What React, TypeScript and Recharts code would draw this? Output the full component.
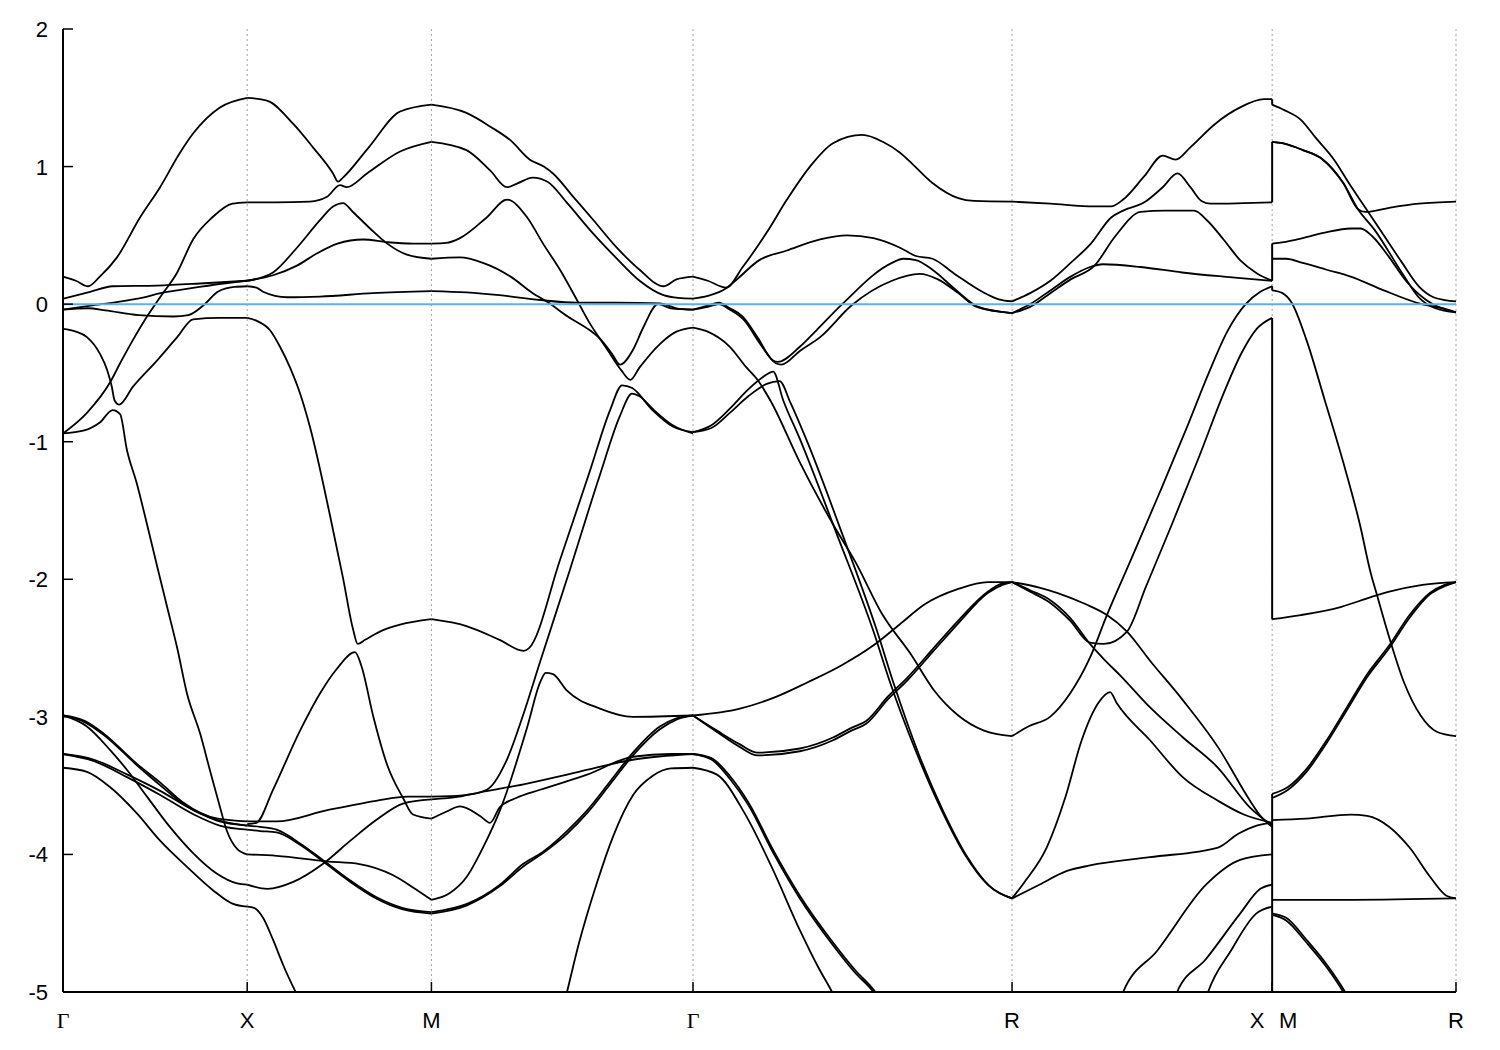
import React from "react";
import { CartesianGrid, Line, LineChart, XAxis, YAxis } from "recharts";

type Pt = [number, number];

// k-path: Γ X M Γ R X|M R  (distance in units of Γ-X)
const kTicks = [0, 1, 2, 3.42, 5.152, 6.564, 7.562];
const kLabels = ["Γ", "X", "M", "Γ", "R", "X|M", "R"];
const energyTicks = [-5, -4, -3, -2, -1, 0, 1, 2];
const fermiLevel: Pt[] = [[0, 0], [7.562, 0]];

// Γ -> X
const bandsGX: Pt[][] = [
  [[0, 0.2], [0.07, 0.17], [0.136, 0.13], [0.2, 0.2], [0.293, 0.34], [0.418, 0.63], [0.527, 0.85], [0.635, 1.1], [0.706, 1.24], [0.852, 1.43], [1, 1.5]],
  [[0, 0.04], [0.147, 0.09], [0.27, 0.13], [0.51, 0.135], [0.744, 0.15], [1, 0.17]],
  [[0, -0.04], [0.15, -0.01], [0.29, 0.015], [0.44, 0.05], [0.53, 0.08], [0.62, 0.1], [0.74, 0.125], [0.87, 0.15], [1, 0.17]],
  [[0, -0.04], [0.136, -0.03], [0.23, -0.045], [0.41, -0.08], [0.6, -0.09], [0.68, -0.08], [0.77, 0.0], [0.84, 0.09], [0.93, 0.125], [1, 0.13]],
  [[0, -0.94], [0.13, -0.79], [0.255, -0.57], [0.31, -0.43], [0.38, -0.26], [0.456, -0.09], [0.527, 0.05], [0.62, 0.23], [0.706, 0.47], [0.81, 0.63], [0.92, 0.73], [1, 0.74]],
  [[0, -0.18], [0.07, -0.2], [0.13, -0.24], [0.2, -0.36], [0.24, -0.48], [0.265, -0.6], [0.28, -0.7], [0.305, -0.73], [0.38, -0.6], [0.51, -0.41], [0.62, -0.24], [0.706, -0.11], [0.85, -0.1], [1, -0.1]],
  [[0, -0.94], [0.11, -0.92], [0.2, -0.86], [0.27, -0.77], [0.31, -0.8], [0.347, -1.06], [0.4, -1.3], [0.456, -1.6], [0.51, -1.9], [0.565, -2.2], [0.62, -2.5], [0.673, -2.83], [0.744, -3.12], [0.8, -3.4], [0.845, -3.62], [0.89, -3.83], [0.945, -3.96], [1, -4.0]],
  [[0, -2.99], [0.12, -3.03], [0.22, -3.12], [0.4, -3.34], [0.53, -3.48], [0.65, -3.62], [0.84, -3.74], [1, -3.76]],
  [[0, -2.99], [0.12, -3.04], [0.22, -3.13], [0.4, -3.35], [0.53, -3.5], [0.65, -3.63], [0.84, -3.75], [1, -3.79]],
  [[0, -3.27], [0.165, -3.31], [0.35, -3.42], [0.53, -3.54], [0.71, -3.68], [0.85, -3.76], [1, -3.79]],
  [[0, -3.27], [0.165, -3.32], [0.35, -3.44], [0.53, -3.57], [0.71, -3.71], [0.85, -3.79], [1, -3.82]],
  [[0, -2.99], [0.13, -3.07], [0.255, -3.24], [0.35, -3.39], [0.456, -3.58], [0.58, -3.8], [0.706, -3.99], [0.836, -4.14], [0.945, -4.21], [1, -4.22]],
  [[0, -3.37], [0.13, -3.4], [0.255, -3.51], [0.4, -3.7], [0.527, -3.9], [0.673, -4.09], [0.814, -4.26], [0.923, -4.36], [1, -4.38]],
];

// X -> M
const bandsXM: Pt[][] = [
  [[1, 1.5], [1.107, 1.48], [1.25, 1.31], [1.357, 1.14], [1.466, 0.95], [1.493, 0.89], [1.52, 0.92], [1.66, 1.14], [1.83, 1.4], [2, 1.45]],
  [[1, 0.74], [1.15, 0.74], [1.34, 0.745], [1.433, 0.78], [1.504, 0.865], [1.54, 0.85], [1.65, 0.95], [1.83, 1.11], [2, 1.18]],
  [[1, 0.17], [1.14, 0.23], [1.27, 0.41], [1.395, 0.61], [1.466, 0.71], [1.52, 0.735], [1.574, 0.67], [1.667, 0.55], [1.76, 0.44], [1.867, 0.36], [2, 0.33]],
  [[1, 0.17], [1.14, 0.21], [1.27, 0.28], [1.38, 0.37], [1.49, 0.44], [1.63, 0.47], [1.76, 0.45], [1.9, 0.44], [2, 0.44]],
  [[1, 0.13], [1.05, 0.12], [1.086, 0.09], [1.216, 0.05], [1.395, 0.055], [1.683, 0.08], [2, 0.095]],
  [[1, -0.1], [1.05, -0.12], [1.124, -0.19], [1.178, -0.31], [1.232, -0.46], [1.287, -0.65], [1.34, -0.89], [1.45, -1.54], [1.52, -1.99], [1.574, -2.36], [1.6, -2.47], [1.64, -2.44], [1.72, -2.38], [1.83, -2.33], [2, -2.29]],
  [[1, -3.78], [1.05, -3.77], [1.14, -3.53], [1.287, -3.1], [1.395, -2.83], [1.487, -2.65], [1.585, -2.53], [1.62, -2.63], [1.683, -2.99], [1.76, -3.35], [1.846, -3.59], [1.9, -3.71], [2, -3.74]],
  [[1, -3.76], [1.16, -3.76], [1.43, -3.68], [1.7, -3.61], [1.87, -3.58], [2, -3.58]],
  [[1, -4.22], [1.11, -4.25], [1.25, -4.2], [1.41, -4.07], [1.56, -3.9], [1.7, -3.75], [1.846, -3.63], [2, -3.6]],
  [[1, -3.79], [1.07, -3.8], [1.16, -3.82], [1.287, -3.92], [1.41, -4.04], [1.56, -4.19], [1.7, -4.31], [1.846, -4.39], [2, -4.42]],
  [[1, -3.82], [1.07, -3.83], [1.16, -3.84], [1.287, -3.93], [1.41, -4.05], [1.56, -4.2], [1.7, -4.32], [1.846, -4.4], [2, -4.43]],
  [[1, -4.0], [1.16, -4.01], [1.43, -4.05], [1.61, -4.07], [1.79, -4.15], [1.9, -4.24], [2, -4.33]],
  [[1, -4.38], [1.04, -4.39], [1.086, -4.46], [1.14, -4.62], [1.194, -4.8], [1.27, -5.02], [1.34, -5.2]],
];

// M -> Γ
const bandsMG: Pt[][] = [
  [[2, 1.45], [2.19, 1.39], [2.32, 1.29], [2.43, 1.19], [2.535, 1.05], [2.61, 1.0], [2.66, 0.95], [2.77, 0.78], [2.88, 0.61], [3.0, 0.42], [3.13, 0.25], [3.26, 0.13], [3.33, 0.18], [3.42, 0.2]],
  [[2, 1.18], [2.19, 1.12], [2.32, 0.97], [2.41, 0.85], [2.47, 0.88], [2.55, 0.92], [2.63, 0.89], [2.74, 0.73], [2.86, 0.54], [3.0, 0.34], [3.13, 0.17], [3.26, 0.065], [3.34, 0.045], [3.42, 0.04]],
  [[2, 0.44], [2.08, 0.445], [2.155, 0.48], [2.3, 0.63], [2.41, 0.76], [2.52, 0.63], [2.606, 0.44], [2.698, 0.25], [2.79, 0.03], [2.86, -0.14], [2.95, -0.32], [3.03, -0.48], [3.08, -0.55], [3.13, -0.46], [3.24, -0.29], [3.33, -0.2], [3.42, -0.17]],
  [[2, 0.33], [2.155, 0.34], [2.28, 0.3], [2.43, 0.2], [2.55, 0.08], [2.63, 0.015], [2.74, -0.09], [2.86, -0.19], [2.915, -0.25], [2.98, -0.36], [3.024, -0.44], [3.095, -0.33], [3.15, -0.17], [3.23, 0.0], [3.3, -0.03], [3.42, -0.04]],
  [[2, 0.095], [2.19, 0.085], [2.37, 0.065], [2.59, 0.03], [2.79, 0.01], [3.0, 0.01], [3.24, 0.005], [3.33, -0.03], [3.42, -0.04]],
  [[2, -2.29], [2.19, -2.34], [2.37, -2.44], [2.5, -2.52], [2.53, -2.5], [2.698, -1.86], [2.861, -1.21], [2.97, -0.77], [3.035, -0.59], [3.09, -0.61], [3.2, -0.77], [3.31, -0.89], [3.42, -0.93]],
  [[2, -3.58], [2.17, -3.57], [2.3, -3.53], [2.41, -3.31], [2.497, -2.99], [2.59, -2.6], [2.752, -1.93], [2.915, -1.24], [3.024, -0.81], [3.089, -0.65], [3.13, -0.67], [3.2, -0.76], [3.31, -0.88], [3.42, -0.94]],
  [[2, -3.74], [2.08, -3.69], [2.155, -3.65], [2.264, -3.72], [2.318, -3.77], [2.37, -3.66], [2.46, -3.59], [2.59, -3.53], [2.845, -3.42], [3.094, -3.29], [3.3, -3.27], [3.42, -3.27]],
  [[2, -3.6], [2.15, -3.58], [2.26, -3.55], [2.5, -3.49], [2.8, -3.4], [3.1, -3.31], [3.42, -3.27]],
  [[2, -4.33], [2.1, -4.28], [2.193, -4.16], [2.28, -3.95], [2.372, -3.68], [2.519, -3.08], [2.59, -2.75], [2.62, -2.68], [2.66, -2.69], [2.736, -2.81], [2.915, -2.94], [3.094, -3.0], [3.42, -2.99]],
  [[2, -4.42], [2.193, -4.36], [2.372, -4.22], [2.497, -4.07], [2.606, -3.98], [2.736, -3.83], [2.845, -3.68], [2.97, -3.47], [3.094, -3.26], [3.24, -3.07], [3.33, -3.01], [3.42, -2.99]],
  [[2, -4.43], [2.193, -4.37], [2.372, -4.23], [2.497, -4.09], [2.606, -3.99], [2.736, -3.85], [2.845, -3.7], [2.97, -3.49], [3.094, -3.28], [3.24, -3.09], [3.33, -3.02], [3.42, -2.99]],
  [[2.68, -5.3], [2.736, -5.0], [2.8, -4.65], [2.9, -4.2], [2.986, -3.87], [3.094, -3.57], [3.2, -3.43], [3.3, -3.375], [3.42, -3.37]],
];

// Γ -> R
const bandsGR: Pt[][] = [
  [[3.42, 0.2], [3.5, 0.17], [3.6, 0.12], [3.69, 0.27], [3.82, 0.52], [3.93, 0.76], [4.055, 1.0], [4.18, 1.17], [4.34, 1.23], [4.45, 1.18], [4.544, 1.1], [4.61, 1.02], [4.72, 0.88], [4.86, 0.77], [4.945, 0.75], [5.152, 0.745]],
  [[3.42, 0.04], [3.5, 0.06], [3.6, 0.115], [3.65, 0.17], [3.78, 0.32], [3.93, 0.39], [4.11, 0.47], [4.256, 0.5], [4.4, 0.48], [4.544, 0.41], [4.63, 0.35], [4.72, 0.33], [4.84, 0.22], [4.99, 0.09], [5.08, 0.035], [5.152, 0.02]],
  [[3.42, -0.04], [3.5, -0.01], [3.56, 0.01], [3.62, -0.03], [3.69, -0.09], [3.77, -0.24], [3.855, -0.41], [3.88, -0.42], [4.0, -0.31], [4.09, -0.19], [4.23, 0.0], [4.5, 0.3], [4.56, 0.33], [4.63, 0.32], [4.72, 0.25], [4.85, 0.1], [4.97, -0.02], [5.152, -0.065]],
  [[3.42, -0.04], [3.5, -0.02], [3.56, 0.0], [3.62, -0.04], [3.7, -0.12], [3.78, -0.28], [3.87, -0.43], [3.9, -0.44], [4.0, -0.34], [4.11, -0.24], [4.28, -0.01], [4.5, 0.17], [4.65, 0.22], [4.75, 0.18], [4.86, 0.08], [4.96, -0.02], [5.152, -0.065]],
  [[3.42, -0.17], [3.5, -0.2], [3.62, -0.31], [3.71, -0.46], [3.77, -0.55], [3.84, -0.7], [4.0, -1.15], [4.18, -1.6], [4.3, -1.87], [4.45, -2.26], [4.6, -2.54], [4.73, -2.81], [4.86, -2.99], [5.0, -3.1], [5.152, -3.14]],
  [[3.42, -0.93], [3.52, -0.88], [3.62, -0.76], [3.72, -0.62], [3.8, -0.53], [3.855, -0.49], [3.91, -0.7], [4.0, -0.98], [4.2, -1.67], [4.4, -2.38], [4.49, -2.75], [4.63, -3.25], [4.77, -3.68], [4.9, -4.01], [5.02, -4.22], [5.152, -4.32]],
  [[3.42, -0.93], [3.52, -0.9], [3.62, -0.79], [3.72, -0.67], [3.82, -0.58], [3.89, -0.56], [3.95, -0.72], [4.04, -1.0], [4.23, -1.67], [4.42, -2.38], [4.51, -2.76], [4.645, -3.27], [4.78, -3.69], [4.91, -4.02], [5.03, -4.23], [5.152, -4.32]],
  [[3.42, -2.99], [3.675, -2.94], [3.86, -2.86], [4.04, -2.75], [4.22, -2.63], [4.4, -2.48], [4.54, -2.33], [4.68, -2.18], [4.86, -2.07], [5.02, -2.02], [5.152, -2.02]],
  [[3.42, -2.99], [3.55, -3.1], [3.675, -3.2], [3.77, -3.26], [4.0, -3.23], [4.18, -3.15], [4.28, -3.08], [4.36, -3.03], [4.48, -2.85], [4.58, -2.72], [4.72, -2.51], [4.86, -2.3], [5.02, -2.09], [5.1, -2.03], [5.152, -2.02]],
  [[3.42, -2.99], [3.55, -3.11], [3.675, -3.22], [3.77, -3.28], [4.0, -3.25], [4.18, -3.17], [4.28, -3.1], [4.36, -3.05], [4.48, -2.87], [4.58, -2.74], [4.72, -2.53], [4.86, -2.32], [5.02, -2.1], [5.1, -2.04], [5.152, -2.02]],
  [[3.42, -3.27], [3.52, -3.3], [3.62, -3.43], [3.72, -3.62], [3.86, -3.98], [4.0, -4.3], [4.18, -4.64], [4.3, -4.84], [4.41, -5.0], [4.5, -5.2]],
  [[3.42, -3.27], [3.52, -3.31], [3.62, -3.45], [3.72, -3.64], [3.86, -4.0], [4.0, -4.32], [4.18, -4.66], [4.3, -4.86], [4.4, -5.0], [4.49, -5.2]],
  [[3.42, -3.37], [3.55, -3.42], [3.7, -3.7], [3.85, -4.1], [4.0, -4.55], [4.1, -4.82], [4.175, -5.0], [4.25, -5.2]],
];

// R -> X
const bandsRX: Pt[][] = [
  [[5.152, 0.745], [5.36, 0.73], [5.6, 0.71], [5.69, 0.71], [5.755, 0.76], [5.87, 0.93], [5.97, 1.08], [6.04, 1.05], [6.12, 1.14], [6.254, 1.31], [6.39, 1.43], [6.52, 1.49], [6.564, 1.49]],
  [[5.152, 0.02], [5.25, 0.08], [5.36, 0.17], [5.47, 0.3], [5.58, 0.44], [5.69, 0.63], [5.755, 0.68], [5.87, 0.74], [5.97, 0.85], [6.05, 0.95], [6.12, 0.85], [6.18, 0.75], [6.23, 0.73], [6.564, 0.74]],
  [[5.152, -0.065], [5.25, -0.02], [5.36, 0.08], [5.47, 0.18], [5.6, 0.28], [5.71, 0.49], [5.85, 0.67], [5.98, 0.68], [6.14, 0.68], [6.21, 0.61], [6.3, 0.47], [6.39, 0.32], [6.48, 0.225], [6.564, 0.17]],
  [[5.152, -0.065], [5.25, 0.0], [5.36, 0.1], [5.47, 0.2], [5.575, 0.27], [5.646, 0.29], [5.85, 0.27], [6.075, 0.23], [6.3, 0.2], [6.564, 0.17]],
  [[5.152, -2.02], [5.3, -2.06], [5.4, -2.1], [5.55, -2.18], [5.667, -2.26], [5.776, -2.38], [5.9, -2.59], [6.08, -2.88], [6.27, -3.22], [6.444, -3.61], [6.5, -3.72], [6.564, -3.8]],
  [[5.152, -2.02], [5.25, -2.08], [5.358, -2.15], [5.467, -2.28], [5.575, -2.47], [5.65, -2.58], [5.74, -2.7], [5.9, -2.93], [6.08, -3.15], [6.27, -3.37], [6.444, -3.66], [6.564, -3.79]],
  [[5.152, -2.02], [5.25, -2.09], [5.358, -2.17], [5.467, -2.3], [5.575, -2.46], [5.65, -2.47], [5.776, -2.38], [5.88, -2.05], [6.02, -1.6], [6.17, -1.1], [6.3, -0.65], [6.4, -0.35], [6.48, -0.18], [6.564, -0.1]],
  [[5.152, -3.14], [5.24, -3.07], [5.358, -3.0], [5.467, -2.83], [5.575, -2.57], [5.667, -2.26], [5.8, -1.85], [5.95, -1.38], [6.1, -0.9], [6.22, -0.5], [6.32, -0.2], [6.42, 0.0], [6.5, 0.09], [6.564, 0.13]],
  [[5.152, -4.32], [5.22, -4.2], [5.34, -3.95], [5.44, -3.59], [5.53, -3.17], [5.62, -2.9], [5.684, -2.82], [5.72, -2.9], [5.901, -3.17], [6.08, -3.44], [6.27, -3.61], [6.41, -3.71], [6.564, -3.77]],
  [[5.152, -4.32], [5.3, -4.22], [5.45, -4.12], [5.575, -4.08], [5.9, -4.02], [6.27, -3.95], [6.38, -3.85], [6.48, -3.79], [6.564, -3.77]],
  [[5.7, -5.2], [5.755, -5.0], [5.94, -4.7], [6.205, -4.22], [6.39, -4.04], [6.564, -4.0]],
  [[6.0, -5.2], [6.048, -5.0], [6.205, -4.76], [6.39, -4.43], [6.5, -4.25], [6.564, -4.22]],
  [[6.17, -5.2], [6.216, -5.0], [6.34, -4.7], [6.477, -4.43], [6.564, -4.38]],
];

// M -> R
const bandsMR: Pt[][] = [
  [[6.564, 1.45], [6.63, 1.41], [6.72, 1.34], [6.8, 1.21], [6.9, 1.05], [6.99, 0.86], [7.07, 0.7], [7.16, 0.52], [7.27, 0.3], [7.36, 0.13], [7.44, 0.05], [7.5, 0.03], [7.562, 0.02]],
  [[6.564, 1.18], [6.62, 1.17], [6.73, 1.12], [6.84, 1.05], [6.95, 0.88], [7.03, 0.69], [7.07, 0.67], [7.2, 0.7], [7.36, 0.73], [7.562, 0.745]],
  [[6.564, 1.18], [6.62, 1.17], [6.73, 1.12], [6.84, 1.05], [6.95, 0.88], [7.03, 0.69], [7.12, 0.54], [7.27, 0.225], [7.36, 0.05], [7.45, -0.03], [7.562, -0.06]],
  [[6.564, 0.44], [6.6, 0.445], [6.7, 0.47], [6.85, 0.52], [6.99, 0.55], [7.045, 0.55], [7.11, 0.49], [7.2, 0.34], [7.29, 0.17], [7.4, 0.03], [7.562, -0.06]],
  [[6.564, 0.33], [6.64, 0.33], [6.73, 0.3], [6.86, 0.25], [6.99, 0.2], [7.17, 0.1], [7.35, 0.01], [7.53, -0.045], [7.562, -0.06]],
  [[6.564, 0.1], [6.62, 0.08], [6.67, 0.01], [6.75, -0.26], [6.85, -0.7], [6.95, -1.15], [7.04, -1.6], [7.1, -1.96], [7.13, -2.1], [7.19, -2.38], [7.28, -2.75], [7.37, -2.99], [7.46, -3.11], [7.562, -3.14]],
  [[6.564, -2.29], [6.72, -2.26], [6.94, -2.2], [7.1, -2.13], [7.2, -2.09], [7.38, -2.04], [7.562, -2.02]],
  [[6.564, -3.56], [6.65, -3.51], [6.75, -3.38], [6.86, -3.17], [6.97, -2.93], [7.08, -2.69], [7.2, -2.48], [7.31, -2.26], [7.42, -2.1], [7.5, -2.04], [7.562, -2.02]],
  [[6.564, -3.59], [6.65, -3.53], [6.75, -3.4], [6.86, -3.19], [6.97, -2.95], [7.08, -2.71], [7.2, -2.5], [7.31, -2.28], [7.42, -2.11], [7.5, -2.05], [7.562, -2.02]],
  [[6.564, -3.75], [6.75, -3.74], [6.99, -3.71], [7.08, -3.72], [7.2, -3.8], [7.31, -3.95], [7.42, -4.16], [7.51, -4.3], [7.562, -4.32]],
  [[6.564, -4.33], [7.0, -4.33], [7.562, -4.32]],
  [[6.564, -4.43], [6.64, -4.46], [6.75, -4.62], [6.86, -4.8], [6.96, -5.0], [7.02, -5.15]],
  [[6.564, -4.44], [6.64, -4.48], [6.75, -4.64], [6.86, -4.82], [6.95, -5.0], [7.01, -5.15]],
];

// jumps at the X|M break: [energy at X, energy at M]
const xmJumps: Pt[] = [[1.49, 1.45], [0.74, 1.18], [0.17, 0.44], [0.13, 0.1], [-0.1, -2.29], [-3.56, -5.3]];

const sans = "'Liberation Sans', Arial, Helvetica, sans-serif";
const serif = "'Liberation Serif', 'Times New Roman', serif";

const toRows = (c: Pt[]) => c.map(([k, e]) => ({ k, e }));
const allBands = [bandsGX, bandsXM, bandsMG, bandsGR, bandsRX, bandsMR].flat();
const jumpRows = xmJumps.map(([a, b]) => [
  { k: kTicks[5], e: a },
  { k: kTicks[5], e: b },
]);

const LeftTick = ({ x, y, payload }: any) => (
  <g>
    <line x1={x} x2={x + 10} y1={y} y2={y} stroke="#000" strokeWidth={1.5} />
    <text x={x - 15} y={y + 8} textAnchor="end" fontSize={22} fontFamily={sans} fill="#000">
      {payload.value}
    </text>
  </g>
);

const RightTick = ({ x, y }: any) => (
  <line x1={x} x2={x - 10} y1={y} y2={y} stroke="#000" strokeWidth={1.5} />
);

const TopTick = ({ x, y }: any) => (
  <line x1={x} x2={x} y1={y} y2={y + 10} stroke="#000" strokeWidth={1.5} />
);

const BottomTick = ({ x, y, payload }: any) => {
  const i = kTicks.indexOf(payload.value);
  const label = kLabels[i] ?? "";
  const draw = (s: string, tx: number, key: string) => (
    <text key={key} x={tx} y={y + 36} textAnchor="middle" fontSize={22} fontFamily={s === "Γ" ? serif : sans} fill="#000">
      {s}
    </text>
  );
  return (
    <g>
      <line x1={x} x2={x} y1={y} y2={y - 10} stroke="#000" strokeWidth={1.5} />
      {label.includes("|")
        ? [draw(label.split("|")[0], x - 15, "a"), draw(label.split("|")[1], x + 16, "b")]
        : draw(label, x, "a")}
    </g>
  );
};

export default function App() {
  return (
    <LineChart width={1490} height={1035} margin={{ top: 21, right: 42, bottom: 11, left: 0 }}>
      <CartesianGrid horizontal={false} stroke="#a0a0a0" strokeDasharray="2 3" />
      <XAxis
        dataKey="k"
        type="number"
        domain={[0, 7.562]}
        ticks={kTicks}
        interval={0}
        height={40}
        tickSize={0}
        tickMargin={0}
        tick={<BottomTick />}
        axisLine={{ stroke: "#000", strokeWidth: 2 }}
        tickLine={false}
      />
      <XAxis
        xAxisId="top"
        orientation="top"
        type="number"
        domain={[0, 7.562]}
        ticks={kTicks}
        interval={0}
        height={0}
        tickSize={0}
        tickMargin={0}
        tick={<TopTick />}
        axisLine={{ stroke: "#000", strokeWidth: 2 }}
        tickLine={false}
      />
      <YAxis
        type="number"
        domain={[-5, 2]}
        ticks={energyTicks}
        interval={0}
        allowDataOverflow
        width={55}
        tickSize={0}
        tickMargin={0}
        tick={<LeftTick />}
        axisLine={{ stroke: "#000", strokeWidth: 2 }}
        tickLine={false}
      />
      <YAxis
        yAxisId="right"
        orientation="right"
        type="number"
        domain={[-5, 2]}
        ticks={energyTicks}
        interval={0}
        allowDataOverflow
        width={0}
        tickSize={0}
        tickMargin={0}
        tick={<RightTick />}
        axisLine={{ stroke: "#000", strokeWidth: 2 }}
        tickLine={false}
      />
      {allBands.map((band, i) => (
        <Line
          key={`band-${i}`}
          data={toRows(band)}
          dataKey="e"
          type="monotone"
          stroke="#000"
          strokeWidth={1.8}
          dot={false}
          activeDot={false}
          isAnimationActive={false}
        />
      ))}
      {jumpRows.map((rows, i) => (
        <Line
          key={`jump-${i}`}
          data={rows}
          dataKey="e"
          type="linear"
          stroke="#000"
          strokeWidth={2}
          dot={false}
          activeDot={false}
          isAnimationActive={false}
        />
      ))}
      <Line
        data={toRows(fermiLevel)}
        dataKey="e"
        type="linear"
        stroke="#56b4e9"
        strokeWidth={2}
        dot={false}
        activeDot={false}
        isAnimationActive={false}
      />
    </LineChart>
  );
}
